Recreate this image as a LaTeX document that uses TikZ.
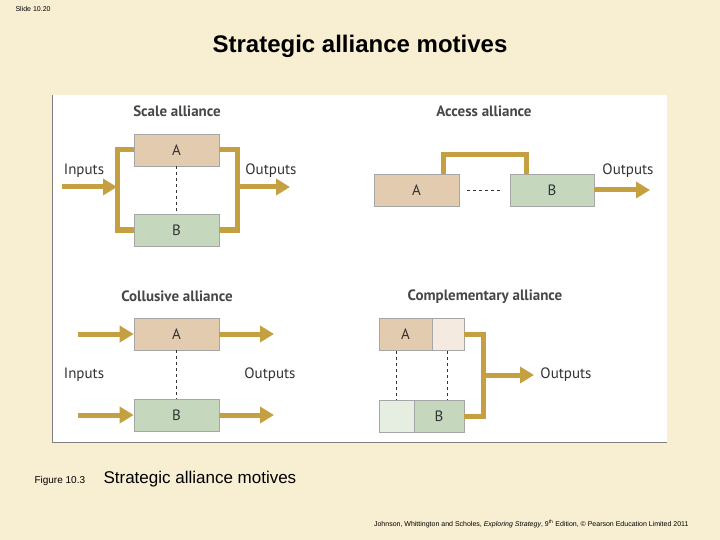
\documentclass[tikz,border=0pt]{standalone}
\usepackage{fontspec}
\setmainfont{Liberation Sans}
\newfontfamily\dia{PT Sans}
\usetikzlibrary{arrows.meta,calc}
\definecolor{bg}{HTML}{F8EED2}
\definecolor{afill}{HTML}{E3CBB0}
\definecolor{bfill}{HTML}{C5D8BE}
\definecolor{alight}{HTML}{F4EAE0}
\definecolor{blight}{HTML}{E6EEE2}
\definecolor{gold}{HTML}{C4A040}
\definecolor{txt}{HTML}{333333}
\tikzset{
 box/.style={draw=gray!70,line width=0.6pt,minimum height=32pt,inner sep=0pt,font=\dia\fontsize{15}{15}\selectfont,text=txt},
 pipe/.style={draw=gold,line width=5pt},
 arr/.style={pipe,-{Triangle[length=14pt,width=16pt]}},
 lbl/.style={font=\dia\fontsize{15}{15}\selectfont,text=txt},
 ttl/.style={font=\dia\bfseries\fontsize{15}{15}\selectfont,text=txt!90},
 dsh/.style={draw=txt,dashed,line width=0.8pt}
}
\begin{document}
\begin{tikzpicture}[x=1pt,y=-1pt]
\useasboundingbox (0,0) rectangle (720,540);
\fill[bg] (0,0) rectangle (720,540);
\fill[white] (52,95) rectangle (667,442);
\draw[gray,line width=0.8pt] (52,95) -- (52,442) -- (667,442);
\node[font=\fontsize{7}{7}\selectfont,anchor=west] (sl) at (12,9) {Slide 10.20};
\node[font=\bfseries\fontsize{24}{24}\selectfont] (t) at (360,46) {Strategic alliance motives};
% Scale
\node[ttl] (st) at (177,111) {Scale alliance};
\node[box,fill=afill,minimum width=85pt] (sa) at (176.5,150) {A};
\node[box,fill=bfill,minimum width=85pt] (sb) at (176.5,230) {B};
\draw[pipe] (sa.west) -| (117,230) -- (sb.west);
\draw[pipe] (sa.east) -| (237,230) -- (sb.east);
\coordinate (sin) at (62,187);
\coordinate (sj) at (117,187);
\coordinate (sj2) at (237,187);
\coordinate (sout) at (290,187);
\draw[arr] (sin) -- (sj);
\draw[arr] (sj2) -- (sout);
\draw[dsh] (sa.south) -- (sb.north);
\node[lbl] (si) at (84,171) {Inputs};
\node[lbl] (so) at (271,171) {Outputs};
% Access
\node[ttl] (at) at (484,111) {Access alliance};
\node[box,fill=afill,minimum width=85pt] (aa) at (416.5,190) {A};
\node[box,fill=bfill,minimum width=84pt] (ab) at (552,190) {B};
\draw[pipe] (443,174) -- (443,155) -- (526,155) -- (526,174);
\draw[dsh] ($(aa.east)+(8,0)$) -- ($(ab.west)+(-8,0)$);
\coordinate (aout) at (650,190);
\draw[arr] (ab.east) -- (aout);
\node[lbl] (ao) at (628,171) {Outputs};
% Collusive
\node[ttl] (ct) at (177,296) {Collusive alliance};
\node[box,fill=afill,minimum width=85pt] (ca) at (176.5,334) {A};
\node[box,fill=bfill,minimum width=85pt] (cb) at (176.5,415) {B};
\coordinate (ci1) at (78,334); \coordinate (ci2) at (78,415);
\coordinate (co1) at (274,334); \coordinate (co2) at (274,415);
\draw[arr] (ci1) -- (ca.west);
\draw[arr] (ci2) -- (cb.west);
\draw[arr] (ca.east) -- (co1);
\draw[arr] (cb.east) -- (co2);
\draw[dsh] (ca.south) -- (cb.north);
\node[lbl] (cin) at (84,375) {Inputs};
\node[lbl] (cou) at (270,375) {Outputs};
% Complementary
\node[ttl] (mt) at (485,297) {Complementary alliance};
\node[box,fill=afill,minimum width=53pt] (ma) at (405.5,334.5) {A};
\node[box,fill=alight,minimum width=32pt] (ma2) at (448,334.5) {};
\node[box,fill=blight,minimum width=35pt] (mb2) at (396.5,416) {};
\node[box,fill=bfill,minimum width=50pt] (mb) at (439,416) {B};
\draw[pipe] (ma2.east) -| (483,416) -- (mb.east);
\coordinate (mj) at (483,375);
\coordinate (mo) at (534,375);
\draw[arr] (mj) -- (mo);
\draw[dsh] (396,351) -- (396,400);
\draw[dsh] (447,351) -- (447,400);
\node[lbl] (mou) at (566,375) {Outputs};
% captions
\node[font=\fontsize{10}{10}\selectfont,anchor=west] (f1) at (31,481) {Figure 10.3};
\node[font=\fontsize{17}{17}\selectfont,anchor=west] (f2) at (100,479) {Strategic alliance motives};
\node[font=\fontsize{7}{7}\selectfont,anchor=east] (ref) at (692,524) {Johnson, Whittington and Scholes, \textit{Exploring Strategy}, 9\textsuperscript{th} Edition, © Pearson Education Limited 2011};
\end{tikzpicture}
\end{document}
